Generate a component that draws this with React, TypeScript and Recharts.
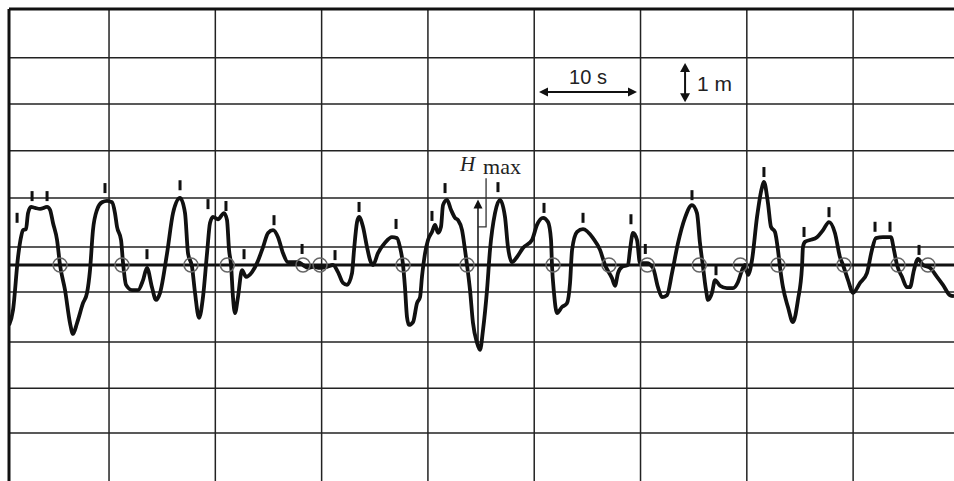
import { ComposedChart, Line, Scatter, XAxis, YAxis, ReferenceLine } from 'recharts'

// wave record: time in seconds, surface elevation in metres (0 = mean level)
const TIME_S = [
  0.6, 0.97, 1.44, 1.72, 1.91, 2.19, 2.38, 2.66, 3.04, 3.51,
  4.17, 4.45, 4.73, 5.11, 5.39, 5.86, 6.33, 6.61, 6.99, 7.55,
  7.93, 8.21, 8.49, 8.87, 9.34, 9.81, 10.28, 10.56, 10.75, 11.13,
  11.32, 11.6, 12.16, 12.73, 13.2, 13.57, 14.04, 14.42, 14.8, 15.46,
  16.02, 16.68, 17.15, 17.43, 17.81, 18.09, 18.47, 18.84, 19.22, 19.5,
  19.78, 20.25, 20.82, 21.1, 21.29, 21.48, 21.66, 21.85, 22.13, 22.51,
  22.89, 23.45, 23.92, 24.49, 24.96, 25.43, 25.9, 26.37, 26.84, 27.31,
  27.78, 28.25, 28.72, 29.19, 29.85, 30.51, 31.07, 31.54, 32.01, 32.39,
  32.86, 33.05, 33.33, 33.52, 33.89, 34.27, 34.55, 34.83, 35.3, 35.96,
  36.62, 37.09, 37.37, 37.66, 37.84, 38.03, 38.22, 38.6, 38.97, 39.26,
  39.44, 39.73, 40.01, 40.38, 40.67, 40.95, 41.23, 41.42, 41.8, 42.17,
  42.55, 42.83, 43.21, 43.49, 43.68, 43.96, 44.24, 44.62, 44.9, 45.18,
  45.56, 45.84, 46.31, 46.78, 47.25, 47.53, 47.91, 48.38, 48.94, 49.79,
  50.26, 50.83, 51.3, 51.58, 51.67, 51.86, 52.14, 52.61, 53.08, 53.37,
  53.56, 54.03, 54.59, 55.53, 56.19, 56.66, 57.32, 57.6, 57.88, 58.26,
  58.82, 59.01, 59.29, 59.67, 59.95, 60.61, 61.17, 61.64, 62.02, 62.49,
  62.96, 63.53, 64.18, 64.84, 65.31, 65.59, 65.88, 66.16, 66.35, 66.72,
  67.01, 67.48, 68.13, 68.7, 69.17, 69.55, 69.83, 70.11, 70.49, 70.96,
  71.43, 71.61, 71.99, 72.27, 72.65, 72.93, 73.12, 73.4, 73.87, 74.34,
  74.81, 75.19, 75.28, 75.47, 75.94, 76.6, 77.17, 77.73, 78.29, 78.76,
  79.05, 79.52, 79.99, 80.65, 81.3, 81.77, 82.15, 82.81, 83.56, 83.84,
  84.13, 84.6, 85.07, 85.35, 85.72, 86.1, 86.57, 87.23, 87.89, 88.45,
  89.11, 89.49
]
const ELEVATION_M = [
  -1.27, -0.95, 0.17, 0.59, 0.74, 0.76, 1.1, 1.23, 1.21, 1.19,
  1.23, 1.17, 0.89, 0.53, 0, -0.53, -1.23, -1.46, -1.23, -0.81,
  -0.59, -0.11, 0.74, 1.17, 1.33, 1.36, 1.33, 1.1, 0.81, 0.53,
  0.04, -0.42, -0.53, -0.53, -0.32, -0.06, -0.47, -0.74, -0.59, 0.25,
  1.1, 1.42, 1.1, 0.25, -0.04, -0.59, -1.12, -0.68, 0.25, 0.89,
  1.02, 0.97, 1.1, 0.95, 0.32, 0, -0.68, -1.02, -0.68, -0.11,
  -0.25, -0.15, 0.04, 0.38, 0.68, 0.74, 0.59, 0.25, 0.06, 0.06,
  0.06, 0, -0.06, -0.04, -0.06, -0.04, 0, -0.15, -0.38, -0.42,
  -0.17, 0.32, 0.91, 1.02, 0.81, 0.38, 0.11, 0, 0.25, 0.47,
  0.59, 0.57, 0.38, 0, -0.47, -1.1, -1.27, -1.21, -0.81, -0.68,
  -0.25, 0.25, 0.53, 0.7, 0.85, 0.68, 0.81, 1.27, 1.38, 1.17,
  1.0, 0.95, 0.74, 0.32, 0, -0.53, -1.23, -1.65, -1.8, -1.38,
  -0.53, 0.32, 1.1, 1.38, 1.02, 0.38, 0.06, 0.17, 0.36, 0.53,
  0.85, 1.0, 0.91, 0.53, 0, -0.59, -1.02, -0.89, -0.81, -0.38,
  0.32, 0.7, 0.76, 0.57, 0.32, 0, -0.28, -0.44, -0.17, -0.04,
  0, 0.32, 0.68, 0.53, 0.04, 0.04, -0.06, -0.47, -0.68, -0.64,
  -0.17, 0.47, 1.0, 1.27, 1.1, 0.47, -0.04, -0.53, -0.74, -0.59,
  -0.32, -0.44, -0.49, -0.49, -0.36, -0.11, 0, -0.21, 0.11, 1.02,
  1.65, 1.76, 1.31, 0.81, 0.7, 0.32, -0.04, -0.47, -0.89, -1.21,
  -0.74, -0.04, 0.38, 0.49, 0.53, 0.59, 0.74, 0.91, 0.68, 0.17,
  0, -0.32, -0.59, -0.38, -0.17, 0.32, 0.57, 0.59, 0.59, 0.32,
  0, -0.25, -0.47, -0.47, -0.11, 0.13, 0, -0.06, -0.25, -0.42,
  -0.64, -0.66
]

// crest marks (small bars above each crest)
const CREST_T = [
  1.35, 2.76, 4.17, 9.62, 13.57, 16.68, 19.31, 21.0, 22.7, 25.52,
  28.16, 31.26, 33.52, 37.0, 40.38, 41.61, 46.59, 50.92, 54.59, 59.1,
  60.45, 64.84, 67.1, 71.61, 75.38, 77.73, 82.06, 83.47, 86.2
]
const CREST_H = [
  1.0, 1.46, 1.46, 1.63, 0.23, 1.69, 1.29, 1.25, 0.23, 0.95,
  0.34, 0.21, 1.23, 0.87, 1.04, 1.63, 1.65, 1.21, 1.0, 0.97,
  0.34, 1.48, -0.11, 1.97, 0.7, 1.12, 0.81, 0.81, 0.32
]

// zero crossings (circled)
const CROSSING_T = [
  5.39, 11.22, 17.71, 21.13, 28.25, 29.85, 37.66, 43.68, 51.77,
  57.03, 60.64, 65.53, 69.39, 72.93, 79.14, 84.22, 87.04
]

const GRID_T = [10, 20, 30, 40, 50, 60, 70, 80]
const GRID_H = [4.39, 3.41, 2.42, 1.42, 0.38, -0.57, -1.63, -2.61, -3.56]
const T_DOMAIN: [number, number] = [0.59, 89.49]
const H_DOMAIN: [number, number] = [-4.576, 5.424]

// annotations
const HMAX_T = 44.71
const HMAX_FROM = -1.7
const HMAX_TO = 1.39
const HMAX_LEADER = [{ x: 45.47, y: 1.84 }, { x: 44.71, y: 0.81 }]
const SCALE_10S = [{ x: 50.45, y: 3.665 }, { x: 59.67, y: 3.665 }]
const SCALE_1M = [{ x: 64.19, y: 4.28 }, { x: 64.19, y: 3.45 }]

const waveData = TIME_S.map((t, i) => ({ t, h: ELEVATION_M[i] }))
const crestData = CREST_T.map((t, i) => ({ t, h: CREST_H[i] }))
const crossData = CROSSING_T.map(t => ({ t, h: 0 }))

const INK = '#111'
const SANS = '"Liberation Sans", Arial, sans-serif'
const SERIF = '"Liberation Serif", "Times New Roman", serif'

function head(x: number, y: number, dx: number, dy: number, len = 9, half = 4.5) {
  const bx = x - dx * len, by = y - dy * len
  const px = -dy * half, py = dx * half
  return `${x},${y} ${bx + px},${by + py} ${bx - px},${by - py}`
}

const CrestTick = (p: any) => <rect x={p.cx - 1.5} y={p.cy - 5} width={3} height={10} fill={INK} />
const CrossRing = (p: any) => <circle cx={p.cx} cy={p.cy} r={7} fill="none" stroke="#666" strokeWidth={1.5} />

const TimeScale = (p: any) => (
  <g>
    <line x1={p.x1 + 6} y1={p.y1} x2={p.x2 - 6} y2={p.y1} stroke={INK} strokeWidth={2} />
    <polygon points={head(p.x1, p.y1, -1, 0)} fill={INK} />
    <polygon points={head(p.x2, p.y1, 1, 0)} fill={INK} />
    <text x={(p.x1 + p.x2) / 2} y={p.y1 - 8} textAnchor="middle" fontFamily={SANS} fontSize={20} fill="#222">10 s</text>
  </g>
)

const HeightScale = (p: any) => (
  <g>
    <line x1={p.x1} y1={p.y1 + 6} x2={p.x1} y2={p.y2 - 6} stroke={INK} strokeWidth={2} />
    <polygon points={head(p.x1, p.y1, 0, -1, 9, 5)} fill={INK} />
    <polygon points={head(p.x1, p.y2, 0, 1, 9, 5)} fill={INK} />
    <text x={p.x1 + 12} y={(p.y1 + p.y2) / 2 + 8} fontFamily={SANS} fontSize={21} fill="#222">1 m</text>
  </g>
)

const HmaxArrow = (p: any) => (
  <g>
    <line x1={p.x1} y1={p.y1} x2={p.x2} y2={p.y2 + 7} stroke={INK} strokeWidth={1.5} />
    <polygon points={head(p.x2, p.y2, 0, -1, 9, 4.5)} fill={INK} />
  </g>
)

const HmaxLeader = (p: any) => (
  <g>
    <polyline points={`${p.x1},${p.y1} ${p.x1},${p.y2} ${p.x2},${p.y2}`} fill="none" stroke="#333" strokeWidth={1.3} />
    <text x={p.x1 - 26} y={p.y1 - 7} fontFamily={SERIF} fontStyle="italic" fontSize={21} fill="#222">H</text>
    <text x={p.x1 - 3} y={p.y1 - 4} fontFamily={SERIF} fontSize={22} fill="#222">max</text>
  </g>
)

export default function App() {
  return (
    <div style={{ position: 'absolute', left: 0, top: 0, background: '#fff' }}>
      <ComposedChart width={954} height={481} margin={{ top: 9, right: 0, bottom: 0, left: 9 }}>
        <XAxis type="number" dataKey="t" domain={T_DOMAIN} allowDataOverflow hide />
        <YAxis type="number" dataKey="h" domain={H_DOMAIN} allowDataOverflow hide />

        {GRID_T.map(t => (
          <ReferenceLine key={'gx' + t} x={t} stroke="#222" strokeWidth={1.5} />
        ))}
        {GRID_H.map(h => (
          <ReferenceLine key={'gy' + h} y={h} stroke="#222" strokeWidth={1.5} />
        ))}
        <ReferenceLine x={T_DOMAIN[0]} stroke={INK} strokeWidth={3} ifOverflow="visible" />
        <ReferenceLine y={H_DOMAIN[1]} stroke={INK} strokeWidth={3} ifOverflow="visible" />
        <ReferenceLine y={0} stroke={INK} strokeWidth={3} />

        <Line data={waveData} dataKey="h" type="monotone" stroke={INK} strokeWidth={3.8}
          dot={false} activeDot={false} isAnimationActive={false} />
        <Scatter data={crestData} shape={CrestTick} isAnimationActive={false} />
        <Scatter data={crossData} shape={CrossRing} isAnimationActive={false} />

        <ReferenceLine segment={[{ x: HMAX_T, y: HMAX_FROM }, { x: HMAX_T, y: HMAX_TO }]} shape={HmaxArrow} ifOverflow="visible" />
        <ReferenceLine segment={HMAX_LEADER} shape={HmaxLeader} ifOverflow="visible" />
        <ReferenceLine segment={SCALE_10S} shape={TimeScale} ifOverflow="visible" />
        <ReferenceLine segment={SCALE_1M} shape={HeightScale} ifOverflow="visible" />
      </ComposedChart>
    </div>
  )
}
